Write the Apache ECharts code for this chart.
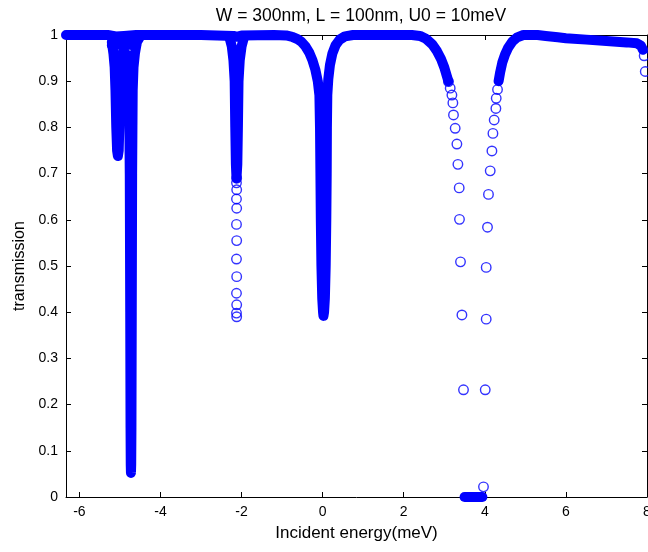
<!DOCTYPE html>
<html>
<head>
<meta charset="utf-8">
<script src="https://cdn.jsdelivr.net/npm/echarts@6/dist/echarts.min.js"></script>
<style>
  html, body { margin: 0; padding: 0; background: #fff; }
  #chart { width: 648px; height: 552px; }
</style>
</head>
<body>
<div id="chart"></div>
<script>
// Transmission vs incident energy, W = 300nm, L = 100nm, U0 = 10meV

const titleText = 'W = 300nm, L = 100nm, U0 = 10meV';
const xAxisName = 'Incident energy(meV)';
const yAxisName = 'transmission';
const xTickValues = [-6, -4, -2, 0, 2, 4, 6, 8];
const xRange = [-6.33, 8];
const yRange = [0, 1];

// Densely sampled stretches of the curve: [energy, transmission]
const mainBand = [
  [-6.33, 1.0], [-5.6, 1.0], [-5.3, 1.0], [-5.1, 0.997], [-4.9, 0.998], [-4.6, 1.0],
  [-3.0, 1.0], [-2.2, 0.998], [-2.12, 0.996], [-2.0, 0.999], [-1.2, 1.0],
  [-0.9, 0.999], [-0.75, 0.996], [-0.62, 0.991], [-0.52, 0.985], [-0.42, 0.975],
  [-0.33, 0.962], [-0.25, 0.945], [-0.18, 0.925], [-0.12, 0.9], [-0.08, 0.87],
  [-0.065, 0.8], [-0.055, 0.7], [-0.045, 0.6], [-0.03, 0.5], [-0.01, 0.43],
  [0.01, 0.4], [0.02, 0.392], [0.035, 0.4], [0.055, 0.43], [0.075, 0.5],
  [0.09, 0.6], [0.1, 0.7], [0.105, 0.8], [0.115, 0.87], [0.14, 0.905],
  [0.18, 0.935], [0.24, 0.96], [0.32, 0.978], [0.42, 0.99], [0.55, 0.997],
  [0.75, 1.0], [2.2, 1.0], [2.4, 0.998], [2.55, 0.992], [2.7, 0.98],
  [2.82, 0.965], [2.92, 0.948], [3.0, 0.93], [3.06, 0.912], [3.1, 0.9]
];
const shoulderNeg5 = [[-5.2, 0.978], [-4.9, 0.98], [-4.6, 0.978]];
const dipNeg5 = [
  [-5.2, 0.985], [-5.16, 0.96], [-5.13, 0.93], [-5.11, 0.88], [-5.09, 0.8],
  [-5.07, 0.75], [-5.05, 0.738], [-5.03, 0.75], [-5.015, 0.8], [-5.0, 0.88],
  [-4.98, 0.93], [-4.95, 0.96], [-4.9, 0.965], [-4.84, 0.958], [-4.8, 0.93],
  [-4.775, 0.88], [-4.757, 0.7], [-4.746, 0.4], [-4.738, 0.15], [-4.733, 0.07],
  [-4.728, 0.052], [-4.722, 0.07], [-4.716, 0.15], [-4.708, 0.4], [-4.699, 0.7],
  [-4.685, 0.88], [-4.665, 0.93], [-4.63, 0.96], [-4.58, 0.985], [-4.5, 0.997]
];
const dipNeg2 = [
  [-2.3, 0.995], [-2.24, 0.975], [-2.2, 0.945], [-2.17, 0.9], [-2.155, 0.8],
  [-2.14, 0.72], [-2.125, 0.69], [-2.105, 0.72], [-2.09, 0.8], [-2.075, 0.9],
  [-2.045, 0.945], [-2.0, 0.975], [-1.94, 0.995]
];
const dipFloor = [[3.5, 0.0], [3.62, 0.0], [3.75, 0.0], [3.86, 0.0], [3.94, 0.0]];
const rightBand = [
  [4.34, 0.9], [4.38, 0.92], [4.43, 0.94], [4.5, 0.958], [4.58, 0.973],
  [4.68, 0.986], [4.8, 0.995], [4.95, 1.0], [5.3, 1.0], [5.5, 0.998],
  [5.8, 0.995], [6.0, 0.993], [6.5, 0.99], [7.0, 0.987], [7.5, 0.984],
  [7.75, 0.982], [7.85, 0.977], [7.9, 0.968]
];
const denseSegments = [mainBand, shoulderNeg5, dipNeg5, dipNeg2, dipFloor, rightBand];

// Individually resolved samples: [energy, transmission]
const colNeg2Points = [
  [-2.12, 0.69], [-2.125, 0.68], [-2.12, 0.665], [-2.125, 0.645], [-2.12, 0.625],
  [-2.125, 0.59], [-2.12, 0.555], [-2.125, 0.515], [-2.12, 0.477], [-2.125, 0.441],
  [-2.12, 0.416], [-2.125, 0.398], [-2.12, 0.39]
];
const dipLeftPoints = [
  [3.104, 0.899], [3.146, 0.885], [3.188, 0.87], [3.212, 0.853], [3.227, 0.827],
  [3.269, 0.798], [3.311, 0.764], [3.336, 0.72], [3.368, 0.669], [3.375, 0.601],
  [3.4, 0.509], [3.435, 0.394], [3.474, 0.232]
];
const dipRightPoints = [
  [3.967, 0.022], [4.01, 0.232], [4.034, 0.385], [4.034, 0.497], [4.066, 0.584],
  [4.09, 0.655], [4.133, 0.706], [4.175, 0.749], [4.2, 0.787], [4.231, 0.816],
  [4.273, 0.841], [4.281, 0.863], [4.313, 0.882]
];
const edgePoints = [[7.93, 0.955], [7.957, 0.921]];
const sparsePoints = [].concat(colNeg2Points, dipLeftPoints, dipRightPoints, edgePoints);

const BLUE = '#0000ff';
const FONT = 'Liberation Sans';

const axisLineStyle = { color: '#000', width: 1 };
function xAxisDef(pos, showLabels) {
  return {
    type: 'value', position: pos, min: xRange[0], max: xRange[1],
    axisLine: { show: true, onZero: false, lineStyle: axisLineStyle },
    axisTick: { show: true, inside: true, length: 5, customValues: xTickValues, lineStyle: axisLineStyle },
    axisLabel: { show: showLabels, customValues: xTickValues, color: '#000', fontSize: 14, fontFamily: FONT, margin: 8 },
    splitLine: { show: false },
    name: showLabels ? xAxisName : '',
    nameLocation: 'middle', nameGap: 28,
    nameTextStyle: { color: '#000', fontSize: 17, fontFamily: FONT }
  };
}
function yAxisDef(pos, showLabels) {
  return {
    type: 'value', position: pos, min: yRange[0], max: yRange[1], interval: 0.1,
    axisLine: { show: true, onZero: false, lineStyle: axisLineStyle },
    axisTick: { show: true, inside: true, length: 5, lineStyle: axisLineStyle },
    axisLabel: { show: showLabels, color: '#000', fontSize: 14, fontFamily: FONT, margin: 8 },
    splitLine: { show: false },
    name: showLabels ? yAxisName : '',
    nameLocation: 'middle', nameGap: 38,
    nameTextStyle: { color: '#000', fontSize: 16, fontFamily: FONT }
  };
}

const series = denseSegments.map(seg => ({
  type: 'line', xAxisIndex: 0, yAxisIndex: 0, data: seg,
  symbol: 'none', showSymbol: false, clip: false, silent: true,
  lineStyle: { color: BLUE, width: 10, cap: 'round', join: 'round' }
}));
series.push({
  type: 'scatter', xAxisIndex: 0, yAxisIndex: 0, data: sparsePoints,
  symbol: 'circle', symbolSize: 9.5, clip: false, silent: true,
  itemStyle: { color: 'rgba(0,0,0,0)', borderColor: BLUE, borderWidth: 1.4 }
});

const chart = echarts.init(document.getElementById('chart'), null, { renderer: 'canvas' });
chart.setOption({
  animation: false,
  backgroundColor: '#fff',
  title: {
    text: titleText, left: 356, top: 2, textAlign: 'center',
    textStyle: { color: '#000', fontSize: 17.5, fontWeight: 'normal', fontFamily: FONT }
  },
  grid: { left: 66, right: 1, top: 35, bottom: 55, containLabel: false, outerBoundsMode: 'none' },
  xAxis: [xAxisDef('bottom', true), xAxisDef('top', false)],
  yAxis: [yAxisDef('left', true), yAxisDef('right', false)],
  series: series
});
</script>
</body>
</html>
